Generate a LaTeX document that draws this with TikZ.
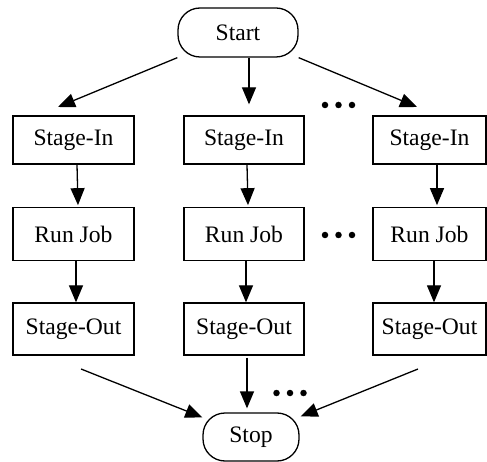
\documentclass[tikz,border=0pt]{standalone}
\usepackage{fontspec}
\setmainfont{Liberation Serif}
\usetikzlibrary{arrows.meta,calc}
\begin{document}
\begin{tikzpicture}[x=1pt,y=-1pt,
  box/.style={draw,line width=1.3pt,minimum height=48pt,inner sep=0pt,font=\fontsize{23.6}{28}\selectfont},
  term/.style={box,rounded corners=22pt},
  arr/.style={line width=1.3pt,-{Triangle[length=17pt,width=14pt]}},
  dotn/.style={fill=black,circle,inner sep=0pt,minimum size=6.5pt}]
\useasboundingbox[fill=white] (0,0) rectangle (487,462);
% nodes
\node[term,minimum width=120pt,minimum height=49pt] (start) at (238,32.5) {Start};
\node[box,minimum width=121pt] (si1) at (73.5,140) {Stage-In};
\node[box,minimum width=120pt] (si2) at (244,140) {Stage-In};
\node[box,minimum width=113pt] (si3) at (429.5,140) {Stage-In};
\node[box,minimum width=121pt,minimum height=53pt] (rj1) at (73.5,234.3) {Run Job};
\node[box,minimum width=120pt,minimum height=53pt] (rj2) at (244,234.3) {Run Job};
\node[box,minimum width=113pt,minimum height=53pt] (rj3) at (429.5,234.3) {Run Job};
\node[box,minimum width=121pt,minimum height=52pt] (so1) at (73.5,329) {Stage-Out};
\node[box,minimum width=120pt,minimum height=52pt] (so2) at (244,329) {Stage-Out};
\node[box,minimum width=113pt,minimum height=52pt] (so3) at (429.5,329) {Stage-Out};
\node[term,minimum width=96pt,minimum height=48pt] (stop) at (251,437) {Stop};
% dots
\node[dotn] (d1) at (325,105) {};
\node[dotn] (d2) at (338.5,105) {};
\node[dotn] (d3) at (352,105) {};
\node[dotn] (d4) at (325,235) {};
\node[dotn] (d5) at (338.5,235) {};
\node[dotn] (d6) at (352,235) {};
\node[dotn] (d7) at (276.5,393) {};
\node[dotn] (d8) at (290,393) {};
\node[dotn] (d9) at (303.5,393) {};
% free ends
\coordinate (t1) at (58,107);
\coordinate (t3) at (417,107);
\coordinate (o1) at (81,369);
\coordinate (o3) at (418,369);
% arrows
\draw[arr] (start.south west) -- (t1);
\draw[arr] ([xshift=11pt]start.south) -- ([xshift=5pt,yshift=11pt]si2.north);
\draw[arr] (start.south east) -- (t3);
\draw[arr] ([xshift=3.5pt]si1.south) -- ([xshift=4.5pt,yshift=2pt]rj1.north);
\draw[arr] ([xshift=3pt]si2.south) -- ([xshift=4pt,yshift=2pt]rj2.north);
\draw[arr] ([xshift=7.5pt]si3.south) -- ([xshift=7.5pt,yshift=2pt]rj3.north);
\draw[arr] ([xshift=2.5pt]rj1.south) -- ([xshift=2.5pt]so1.north);
\draw[arr] ([xshift=2pt]rj2.south) -- ([xshift=2pt]so2.north);
\draw[arr] ([xshift=4.5pt]rj3.south) -- ([xshift=4.5pt]so3.north);
\draw[arr] (o1) -- ([yshift=-5pt]stop.north west);
\draw[arr] ([xshift=3pt,yshift=-2pt]so2.south) -- ([xshift=-4pt,yshift=4pt]stop.north);
\draw[arr] (o3) -- ([xshift=1pt,yshift=-4pt]stop.north east);
\end{tikzpicture}
\end{document}
